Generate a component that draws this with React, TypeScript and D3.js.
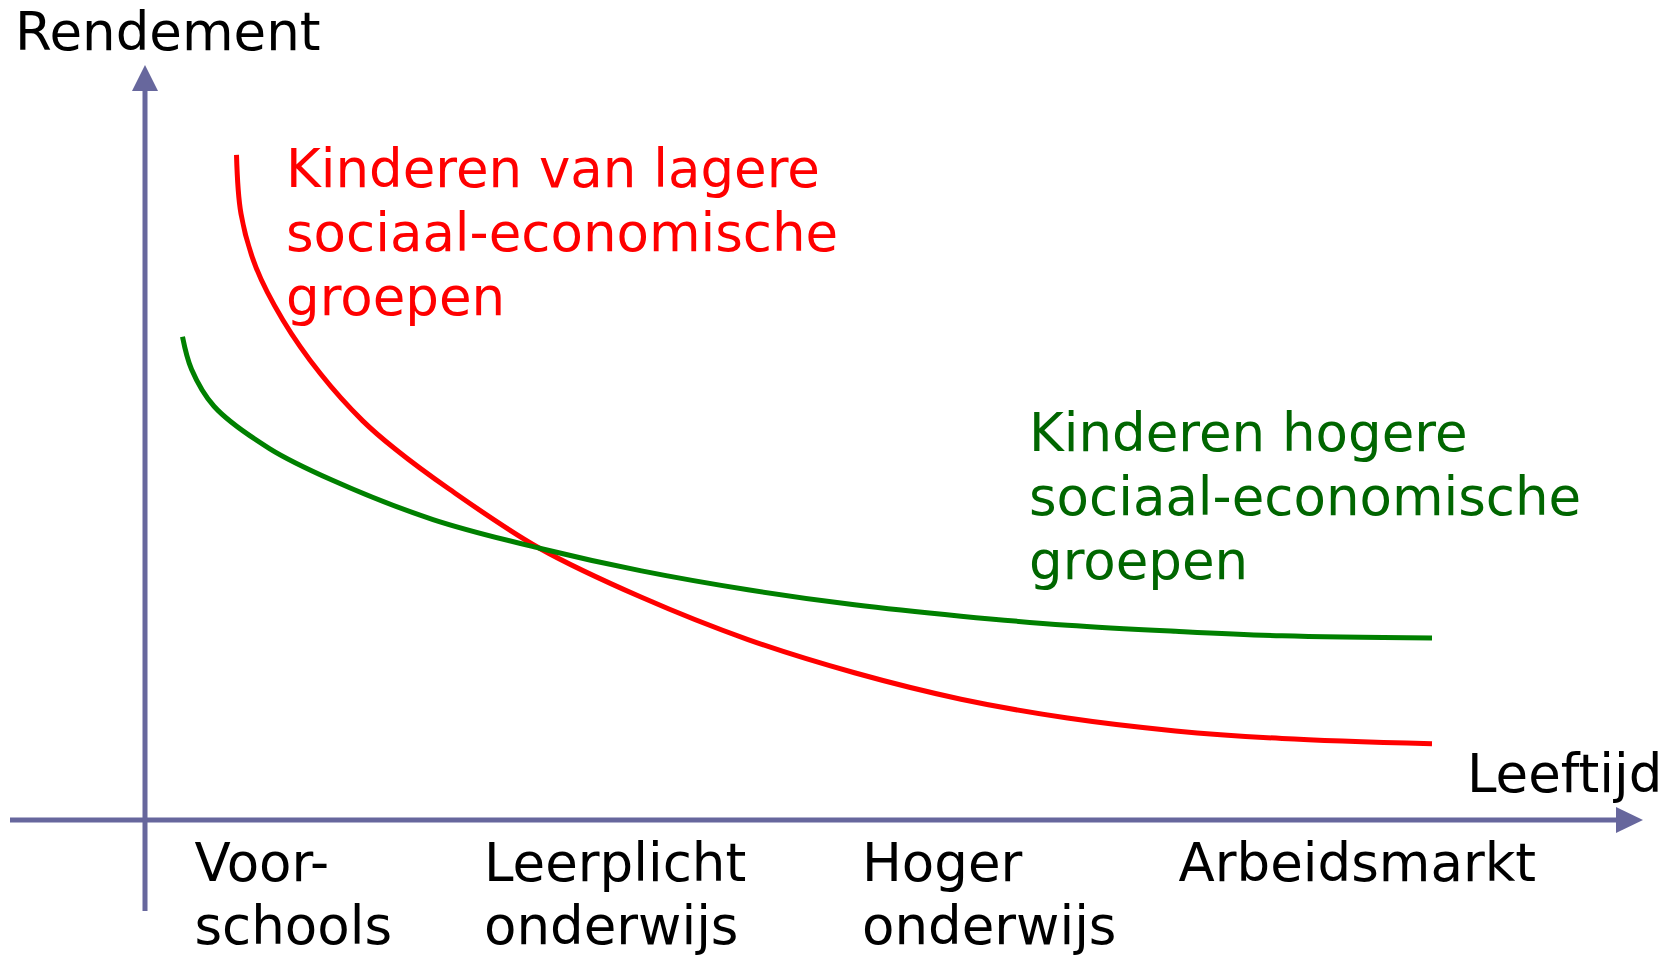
import React, { useEffect, useRef } from 'react';
import * as d3 from 'd3';

// rendement per leeftijd (relatieve eenheden 0-100)
const lageLeeftijd = [6.1, 6.4, 7.4, 9.2, 11.7, 14.5, 16.7, 20.3, 26.3, 33.1, 40.2, 47.3, 54.4, 61.5, 68.7, 75.8, 85.8];
const lageRendement = [88.1, 80.3, 73.2, 66.2, 59.1, 52.9, 49.1, 43.8, 36.0, 29.5, 23.9, 19.5, 16.0, 13.5, 11.8, 10.8, 10.1];

const hogeLeeftijd = [2.5, 3.1, 4.6, 8.3, 12.5, 19.2, 26.3, 33.1, 40.2, 47.3, 54.4, 61.5, 68.7, 75.8, 85.8];
const hogeRendement = [64.0, 59.7, 54.8, 49.2, 45.0, 39.8, 36.0, 33.0, 30.5, 28.5, 27.0, 25.8, 25.0, 24.4, 24.1];

const fasen = [['Voor-', 'schools'], ['Leerplicht', 'onderwijs'], ['Hoger', 'onderwijs'], ['Arbeidsmarkt']];
const faseStart = [3.3, 22.6, 47.8, 68.9];

const lageLabel = ['Kinderen van lagere', 'sociaal-economische', 'groepen'];
const hogeLabel = ['Kinderen hogere', 'sociaal-economische', 'groepen'];

const width = 1675;
const height = 957;

export default function App() {
  const svgRef = useRef<SVGSVGElement>(null);

  useEffect(() => {
    const svg = d3.select(svgRef.current);
    svg.selectAll('*').remove();

    const font = '"DejaVu Sans", Verdana, sans-serif';
    const fs = 53;
    const axisColor = '#67679d';
    const ox = 145;
    const oy = 820;

    const x = d3.scaleLinear().domain([0, 100]).range([ox, ox + 1500]);
    const y = d3.scaleLinear().domain([0, 100]).range([oy, oy - 755]);

    // assen
    svg.append('line')
      .attr('x1', 10).attr('x2', 1620)
      .attr('y1', oy).attr('y2', oy)
      .attr('stroke', axisColor).attr('stroke-width', 5);
    svg.append('path')
      .attr('d', `M1643,${oy} L1616,${oy - 13} L1616,${oy + 13} Z`)
      .attr('fill', axisColor);

    svg.append('line')
      .attr('x1', ox).attr('x2', ox)
      .attr('y1', 911).attr('y2', 88)
      .attr('stroke', axisColor).attr('stroke-width', 5);
    svg.append('path')
      .attr('d', `M${ox},65 L${ox - 13},91 L${ox + 13},91 Z`)
      .attr('fill', axisColor);

    svg.append('text')
      .attr('x', 15).attr('y', 50)
      .attr('font-family', font).attr('font-size', fs)
      .text('Rendement');
    svg.append('text')
      .attr('x', 1467).attr('y', 792)
      .attr('font-family', font).attr('font-size', fs)
      .text('Leeftijd');

    // fasen onder de as
    fasen.forEach((lines, i) => {
      const t = svg.append('text')
        .attr('font-family', font).attr('font-size', fs);
      lines.forEach((l, j) => {
        t.append('tspan')
          .attr('x', x(faseStart[i]))
          .attr('y', 881 + j * 63)
          .text(l);
      });
    });

    const line = d3.line<number>()
      .curve(d3.curveCatmullRom.alpha(0.5));

    svg.append('path')
      .attr('d', line(lageLeeftijd.map((d, i) => [x(d), y(lageRendement[i])]) as any))
      .attr('fill', 'none').attr('stroke', '#ff0000').attr('stroke-width', 5);
    svg.append('path')
      .attr('d', line(hogeLeeftijd.map((d, i) => [x(d), y(hogeRendement[i])]) as any))
      .attr('fill', 'none').attr('stroke', '#008000').attr('stroke-width', 5);

    const addLabel = (lines: string[], lx: number, ly: number, color: string) => {
      const t = svg.append('text')
        .attr('font-family', font).attr('font-size', fs).attr('fill', color);
      lines.forEach((l, j) => {
        t.append('tspan').attr('x', lx).attr('y', ly + j * 64).text(l);
      });
    };
    addLabel(lageLabel, 286, 187, '#ff0000');
    addLabel(hogeLabel, 1029, 451, '#006600');
  }, []);

  return (
    <svg
      ref={svgRef}
      width={width}
      height={height}
      style={{ position: 'absolute', left: 0, top: 0, background: '#fff' }}
    />
  );
}
